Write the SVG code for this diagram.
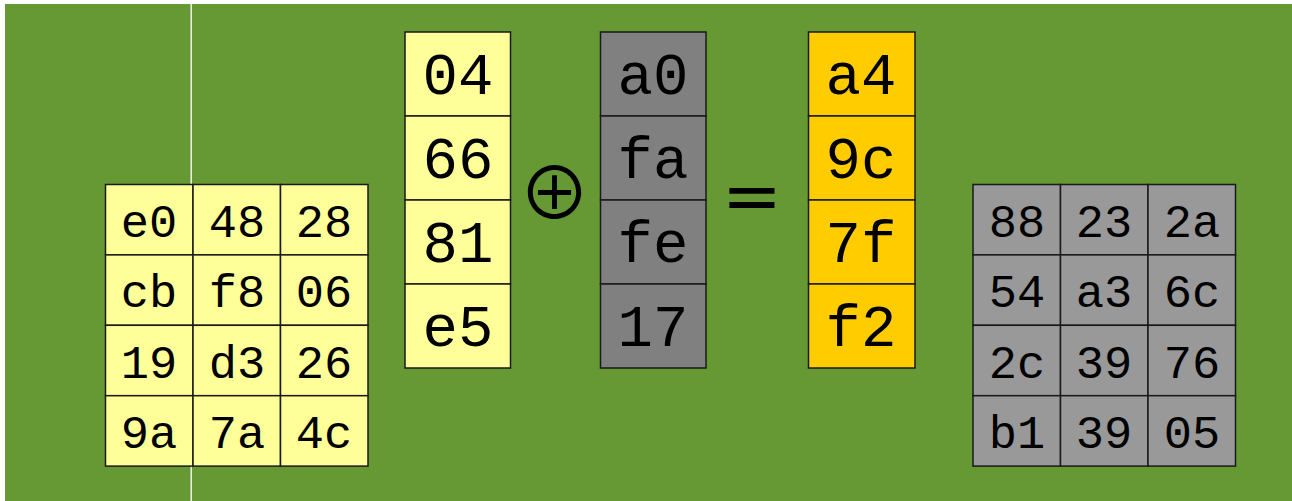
<svg xmlns="http://www.w3.org/2000/svg" width="1292" height="501" viewBox="0 0 1292 501">
<style>
.c{stroke:#1a1a1a;stroke-width:1.5}
.y{fill:#ffff99}
.g1{fill:#808080}
.g2{fill:#999999}
.o{fill:#ffcc00}
.t{font-family:"Liberation Mono","Courier New",monospace;fill:#000;text-anchor:middle}
.s{font-size:47px}
.l{font-size:59px}
</style>
<rect x="0" y="0" width="1292" height="501" fill="#ffffff"/>
<rect x="5" y="4" width="1287" height="497" fill="#669933"/>
<line x1="191.2" y1="4" x2="191.2" y2="501" stroke="#eef2e4" stroke-width="1.5"/>
<g id="state">
<g class="c y">
<rect x="105.5" y="184.5" width="87.5" height="70.4"/><rect x="193" y="184.5" width="87.5" height="70.4"/><rect x="280.5" y="184.5" width="87.5" height="70.4"/>
<rect x="105.5" y="254.9" width="87.5" height="70.4"/><rect x="193" y="254.9" width="87.5" height="70.4"/><rect x="280.5" y="254.9" width="87.5" height="70.4"/>
<rect x="105.5" y="325.3" width="87.5" height="70.4"/><rect x="193" y="325.3" width="87.5" height="70.4"/><rect x="280.5" y="325.3" width="87.5" height="70.4"/>
<rect x="105.5" y="395.7" width="87.5" height="70.4"/><rect x="193" y="395.7" width="87.5" height="70.4"/><rect x="280.5" y="395.7" width="87.5" height="70.4"/>
</g>
<g class="t s">
<text x="149" y="237">e0</text><text x="237" y="237">48</text><text x="324" y="237">28</text>
<text x="149" y="307">cb</text><text x="237" y="307">f8</text><text x="324" y="307">06</text>
<text x="149" y="378">19</text><text x="237" y="378">d3</text><text x="324" y="378">26</text>
<text x="149" y="448">9a</text><text x="237" y="448">7a</text><text x="324" y="448">4c</text>
</g>
</g>
<g id="col1">
<g class="c y">
<rect x="405" y="32" width="105.5" height="84"/><rect x="405" y="116" width="105.5" height="84"/><rect x="405" y="200" width="105.5" height="84"/><rect x="405" y="284" width="105.5" height="84"/>
</g>
<g class="t l">
<text x="458" y="94">04</text><text x="458" y="178">66</text><text x="458" y="262">81</text><text x="458" y="346">e5</text>
</g>
</g>
<g id="xor"><text x="554.5" y="219" font-family="Noto Sans CJK JP,sans-serif" font-size="72" text-anchor="middle" fill="#000">⊕</text></g>
<g id="rcon">
<g class="c g1">
<rect x="600.5" y="32" width="105.5" height="84"/><rect x="600.5" y="116" width="105.5" height="84"/><rect x="600.5" y="200" width="105.5" height="84"/><rect x="600.5" y="284" width="105.5" height="84"/>
</g>
<g class="t l">
<text x="653" y="94">a0</text><text x="653" y="178">fa</text><text x="653" y="262">fe</text><text x="653" y="346">17</text>
</g>
</g>
<g id="eq"><text x="752" y="220" font-family="DejaVu Sans,sans-serif" font-size="72" text-anchor="middle" fill="#000">=</text></g>
<g id="result">
<g class="c o">
<rect x="808.5" y="32" width="106.5" height="84"/><rect x="808.5" y="116" width="106.5" height="84"/><rect x="808.5" y="200" width="106.5" height="84"/><rect x="808.5" y="284" width="106.5" height="84"/>
</g>
<g class="t l">
<text x="861" y="94">a4</text><text x="861" y="178">9c</text><text x="861" y="262">7f</text><text x="861" y="346">f2</text>
</g>
</g>
<g id="key">
<g class="c g2">
<rect x="973" y="184.5" width="87.5" height="70.4"/><rect x="1060.5" y="184.5" width="87.5" height="70.4"/><rect x="1148" y="184.5" width="87.5" height="70.4"/>
<rect x="973" y="254.9" width="87.5" height="70.4"/><rect x="1060.5" y="254.9" width="87.5" height="70.4"/><rect x="1148" y="254.9" width="87.5" height="70.4"/>
<rect x="973" y="325.3" width="87.5" height="70.4"/><rect x="1060.5" y="325.3" width="87.5" height="70.4"/><rect x="1148" y="325.3" width="87.5" height="70.4"/>
<rect x="973" y="395.7" width="87.5" height="70.4"/><rect x="1060.5" y="395.7" width="87.5" height="70.4"/><rect x="1148" y="395.7" width="87.5" height="70.4"/>
</g>
<g class="t s">
<text x="1017" y="237">88</text><text x="1104" y="237">23</text><text x="1192" y="237">2a</text>
<text x="1017" y="307">54</text><text x="1104" y="307">a3</text><text x="1192" y="307">6c</text>
<text x="1017" y="378">2c</text><text x="1104" y="378">39</text><text x="1192" y="378">76</text>
<text x="1017" y="448">b1</text><text x="1104" y="448">39</text><text x="1192" y="448">05</text>
</g>
</g>
</svg>
